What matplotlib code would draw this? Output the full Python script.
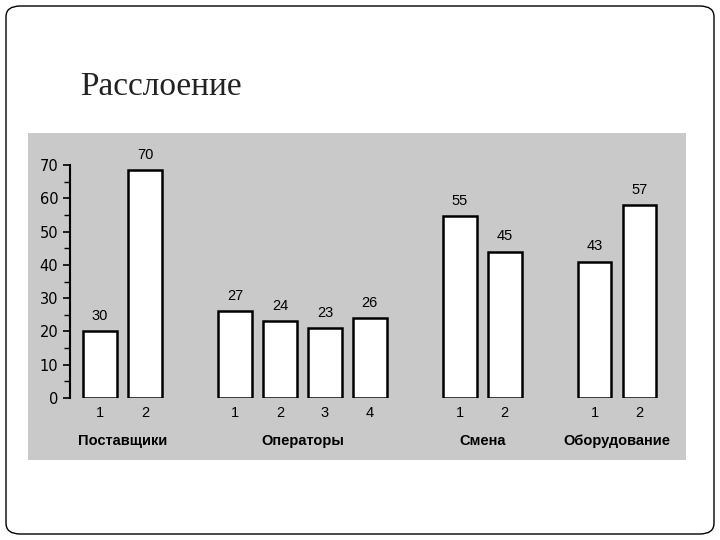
import matplotlib
matplotlib.use("Agg")
import matplotlib.pyplot as plt
from matplotlib.patches import FancyBboxPatch

groups = ["Поставщики", "Операторы", "Смена", "Оборудование"]
group_sizes = [2, 4, 2, 2]
tick_labels = ["1", "2", "1", "2", "3", "4", "1", "2", "1", "2"]
value_labels = [30, 70, 27, 24, 23, 26, 55, 45, 43, 57]
bar_heights = [20, 68.5, 26, 23, 21, 24, 54.6, 44, 41, 58]

positions = []
p = 0
for n in group_sizes:
    for i in range(n):
        positions.append(p); p += 1
    p += 1

fig = plt.figure(figsize=(7.2, 5.4), dpi=100)
fig.patch.set_facecolor("white")
fig.patches.append(FancyBboxPatch((6/720, 6/540), 708/720, 528/540,
    boxstyle="round,pad=0,rounding_size=0.02", transform=fig.transFigure,
    fill=False, edgecolor="black", lw=1))
fig.text(80/720, 1-87/540, "Расслоение", family="Liberation Serif",
         fontsize=24, va="center", color="#222222")
bg = fig.add_axes([28/720, 1-460/540, 658/720, 327/540], zorder=0)
bg.set_facecolor("#c9c9c9")
bg.set_xticks([]); bg.set_yticks([])
for s in bg.spines.values():
    s.set_visible(False)

ax = fig.add_axes([70/720, 1-398/540, 610/720, 233/540], zorder=1)
ax.set_facecolor("none")
ax.bar(positions, bar_heights, width=0.75, facecolor="white", edgecolor="black", lw=1.8)
for x, h, v in zip(positions, bar_heights, value_labels):
    ax.text(x, h + 2.5, str(v), ha="center", va="bottom", fontsize=10.5, family="Liberation Sans")
ax.set_xlim(-0.67, 12.9)
ax.set_ylim(0, 70)
for s in ["top", "right", "bottom"]:
    ax.spines[s].set_visible(False)
ax.spines["left"].set_linewidth(1.5)
ax.set_yticks(range(0, 71, 10))
ax.set_yticks(range(5, 70, 10), minor=True)
ax.tick_params(axis="y", labelsize=10.5, length=5, width=1.2, direction="out")
ax.tick_params(axis="y", which="minor", length=4, width=1)
ax.set_xticks(positions)
ax.set_xticklabels(tick_labels, fontsize=10.5, family="Liberation Sans")
ax.tick_params(axis="x", length=0, pad=6)
start = 0
for g, n in zip(groups, group_sizes):
    c = sum(positions[start:start+n]) / n
    ax.text(c, -12.8, g, ha="center", va="center", fontsize=10.5,
            fontweight="bold", family="Liberation Sans")
    start += n
fig.savefig("out.png", dpi=100)
